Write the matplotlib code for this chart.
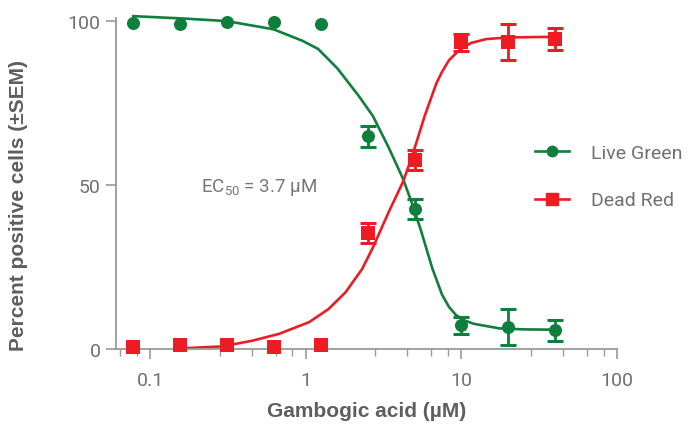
# coding:utf-8
# Live/Dead dose-response vs gambogic acid

import numpy as np
import matplotlib
matplotlib.use('Agg')
import matplotlib.pyplot as plt
from matplotlib.ticker import LogLocator, FixedLocator, NullFormatter

plt.rcParams['font.family'] = ['Roboto', 'DejaVu Sans']
plt.rcParams['mathtext.default'] = 'regular'

# concentrations (uM)
conc = [0.078, 0.156, 0.3125, 0.625, 1.25, 2.5, 5, 10, 20, 40]

# measured points, percent positive cells, with SEM
green_y = [99.5, 99.2, 99.6, 99.7, 99.2, 64.8, 42.6, 7.2, 6.6, 5.7]
green_err = [0, 0, 0, 0, 0, 3.2, 3.1, 2.6, 5.5, 3.2]
red_y = [0.4, 1.0, 1.0, 0.4, 1.0, 35.4, 57.6, 93.6, 93.6, 94.6]
red_err = [0, 0, 0, 0, 0, 3.0, 3.2, 2.6, 5.5, 3.4]

# fitted curves
green_fit_x = [0.078, 0.16, 0.31, 0.62, 0.95, 1.2, 1.6, 2.2, 2.7, 3.4, 4.2,
               4.8, 5.5, 6.0, 6.5, 7.5, 8.3, 9.2, 10.5, 12, 17.5, 25, 40]
green_fit_y = [101.5, 100.8, 100, 97.5, 94, 91.5, 85.5, 77, 71, 61.5, 52,
               44.5, 36, 30, 24.5, 16.5, 12.8, 10.3, 8.6, 7.6, 6.2, 5.9, 5.8]
red_fit_x = [0.156, 0.29, 0.45, 0.67, 1.05, 1.4, 1.8, 2.3, 2.7, 3.4, 4.2,
             4.8, 5.8, 6.9, 7.5, 8.3, 9.7, 11.5, 14.4, 20, 40]
red_fit_y = [0.1, 0.7, 2.4, 4.5, 8.1, 12.1, 17.2, 24.3, 30.9, 41.6, 50.8,
             58.5, 71, 81, 84.5, 88, 91.2, 93.3, 94.5, 95, 95.2]

x_ticks = [0.1, 1, 10, 100]
x_ticklabels = ['0.1', '1', '10', '100']
y_ticks = [0, 50, 100]

GREEN = '#0e7f3c'
RED = '#ed1c24'
AXC = '#9a9a9a'
TXT = '#707070'
LAB = '#5e5e5e'

fig = plt.figure(figsize=(6.99, 4.27), dpi=100)
ax = fig.add_axes([0.166, 0.181, 0.717, 0.775])

ax.plot(green_fit_x, green_fit_y, color=GREEN, lw=1.9, zorder=2,
        solid_joinstyle='round', clip_on=False)
ax.plot(red_fit_x, red_fit_y, color=RED, lw=1.9, zorder=2,
        solid_joinstyle='round', clip_on=False)

cx = np.array(conc)
for ys, es, col, mk, ms in [(green_y, green_err, GREEN, 'o', 9.4),
                            (red_y, red_err, RED, 's', 10.6)]:
    ys = np.array(ys)
    es = np.array(es)
    m = es > 0
    ax.errorbar(cx[m], ys[m], yerr=es[m], fmt='none', ecolor=col,
                elinewidth=2.0, capsize=6, capthick=2.2, zorder=3, clip_on=False)
    ax.plot(cx, ys, mk, color=col, ms=ms, mew=0, zorder=4, clip_on=False)

# legend handles
ax.plot([], [], '-o', color=GREEN, lw=1.9, ms=7.5, label='Live Green')
ax.plot([], [], '-s', color=RED, lw=1.9, ms=8, label='Dead Red')
leg = ax.legend(loc='upper left', bbox_to_anchor=(0.836, 0.618), frameon=False,
                prop={'size': 14}, labelcolor=TXT,
                handlelength=1.75, handletextpad=1.15, labelspacing=1.5,
                borderpad=0, borderaxespad=0)

ax.text(0.17, 0.49, 'EC$_{50}$ = 3.7 µM', transform=ax.transAxes,
        fontsize=13.5, color='#777777', ha='left', va='center')

ax.set_xscale('log')
ax.set_xlim(0.0605, 100)
ax.set_ylim(0, 101)
ax.xaxis.set_major_locator(FixedLocator(x_ticks))
ax.set_xticklabels(x_ticklabels)
ax.xaxis.set_minor_locator(LogLocator(base=10, subs=[2.8, 4.5, 6.4, 8.2]))
ax.xaxis.set_minor_formatter(NullFormatter())
ax.set_yticks(y_ticks)

for s in ['top', 'right']:
    ax.spines[s].set_visible(False)
for s in ['left', 'bottom']:
    ax.spines[s].set_color(AXC)
    ax.spines[s].set_linewidth(1.3)

ax.tick_params(axis='x', which='major', length=7, width=1.2, color=AXC,
               labelsize=14, labelcolor=TXT, pad=9)
ax.tick_params(axis='x', which='minor', length=5, width=1.0, color=AXC)
ax.tick_params(axis='y', which='major', length=7, width=1.2, color=AXC,
               labelsize=14, labelcolor=TXT, pad=4)

ax.set_xlabel('Gambogic acid (µM)', fontsize=15, color=LAB,
              family=['Liberation Sans', 'DejaVu Sans'], fontweight='bold')
ax.set_ylabel('Percent positive cells (±SEM)', fontsize=15, color=LAB,
              family=['Liberation Sans', 'DejaVu Sans'], fontweight='bold')
ax.xaxis.label.set_va('center')
ax.yaxis.label.set_va('center')
ax.xaxis.set_label_coords(0.5, -0.188)
ax.yaxis.set_label_coords(-0.1955, 0.435)

fig.savefig('out.png', dpi=100)
